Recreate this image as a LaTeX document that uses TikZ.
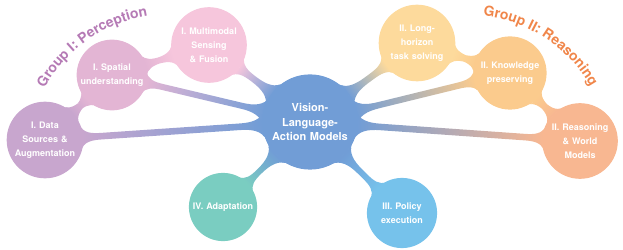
\documentclass[tikz,border=0pt]{standalone}
\usepackage{fontspec}
\setsansfont{TeX Gyre Heros}
\usetikzlibrary{mindmap, decorations.text, backgrounds}

\definecolor{vlaC}{RGB}{113,157,214}
\definecolor{dataC}{RGB}{200,166,206}
\definecolor{spatC}{RGB}{227,181,212}
\definecolor{multC}{RGB}{246,198,220}
\definecolor{adapC}{RGB}{122,205,193}
\definecolor{longC}{RGB}{253,218,156}
\definecolor{knowC}{RGB}{251,203,141}
\definecolor{reasC}{RGB}{248,183,145}
\definecolor{poliC}{RGB}{118,194,235}
\definecolor{grpIC}{RGB}{181,122,181}
\definecolor{grpIIC}{RGB}{240,134,74}
\newcommand\grpfont{\fontsize{14}{16}\sffamily\bfseries}

\begin{document}
\begin{tikzpicture}[
  x=1pt, y=1pt, mindmap,
  hub/.style={concept, concept color=vlaC, text=white, minimum size=94pt,
              text width=86pt, inner sep=0pt, align=center,
              font=\fontsize{11}{14.5}\sffamily\bfseries},
  leaf/.style={concept, text=white, minimum size=74pt, text width=66pt,
               inner sep=0pt, align=center, font=\fontsize{9}{14}\sffamily\bfseries},
  smallleaf/.style={leaf, minimum size=67pt},
  grp/.style={decorate, decoration={text along path, text align=center, text={#1}}}]
  \useasboundingbox (0,0) rectangle (623,249);
  \node[hub] (vla) at (310,127) {Vision-\\Language-\\Action Models};
  \node[leaf, concept color=dataC] (data) at (45,109) {I. Data\\Sources \&\\Augmentation};
  \node[smallleaf, concept color=spatC] (spat) at (112,174) {I. Spatial\\understanding};
  \node[leaf, concept color=multC] (mult) at (209,204) {I. Multimodal\\Sensing\\\& Fusion};
  \node[smallleaf, concept color=adapC] (adap) at (223,42) {IV. Adaptation};
  \node[leaf, concept color=longC] (long) at (417,206) {II. Long-\\horizon\\task solving};
  \node[leaf, concept color=knowC, minimum size=72pt] (know) at (510,176) {II. Knowledge\\preserving};
  \node[leaf, concept color=reasC] (reas) at (580,108) {II. Reasoning\\\& World\\Models};
  \node[smallleaf, concept color=poliC] (poli) at (402,36) {III. Policy\\execution};
  \begin{scope}[on background layer, decoration={amplitude=3.5pt}]
    \path (vla) to[circle connection bar switch color=from (vlaC) to (dataC)] (data);
    \path (vla) to[circle connection bar switch color=from (vlaC) to (spatC)] (spat);
    \path (vla) to[circle connection bar switch color=from (vlaC) to (multC)] (mult);
    \path (vla) to[circle connection bar switch color=from (vlaC) to (adapC)] (adap);
    \path (vla) to[circle connection bar switch color=from (vlaC) to (longC)] (long);
    \path (vla) to[circle connection bar switch color=from (vlaC) to (knowC)] (know);
    \path (vla) to[circle connection bar switch color=from (vlaC) to (reasC)] (reas);
    \path (vla) to[circle connection bar switch color=from (vlaC) to (poliC)] (poli);
    \path (data) to[circle connection bar switch color=from (dataC) to (spatC)] (spat);
    \path (spat) to[circle connection bar switch color=from (spatC) to (multC)] (mult);
    \path (long) to[circle connection bar switch color=from (longC) to (knowC)] (know);
    \path (know) to[circle connection bar switch color=from (knowC) to (reasC)] (reas);
  \end{scope}
  \coordinate (gI) at (171,90);
  \coordinate (gII) at (467,92);
  \path[grp={|\grpfont\color{grpIC}|Group I: Perception}]
    ([shift={(150:145)}]gI) arc[start angle=150, end angle=100, radius=145];
  \path[grp={|\grpfont\color{grpIIC}|Group II: Reasoning}]
    ([shift={(82:142)}]gII) arc[start angle=82, end angle=31, radius=142];
\end{tikzpicture}
\end{document}
